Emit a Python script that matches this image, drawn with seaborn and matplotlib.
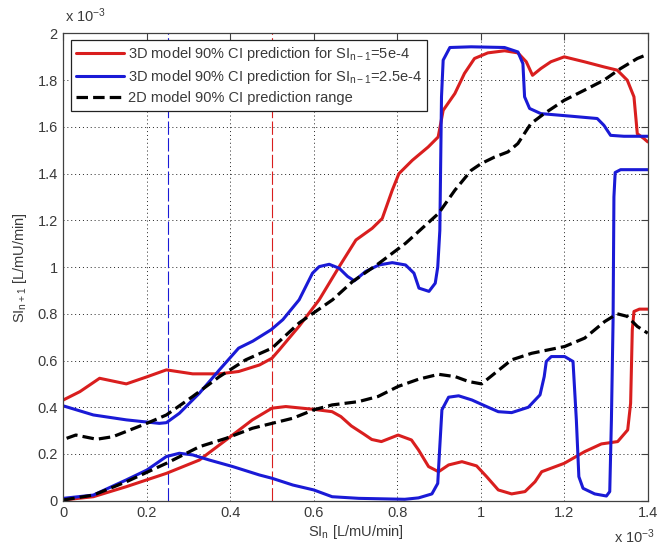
import matplotlib
matplotlib.use("Agg")
import matplotlib.pyplot as plt
import seaborn as sns
import pandas as pd
from matplotlib.lines import Line2D

# values in units of 1e-3 L/mU/min
red_up_x = [0, 0.04, 0.087, 0.151, 0.2, 0.247, 0.31, 0.374, 0.42, 0.47, 0.5, 0.518, 0.565, 0.613, 0.661,
            0.701, 0.74, 0.764, 0.788, 0.804, 0.836, 0.874, 0.898, 0.91, 0.938, 0.961, 0.985, 1.017, 1.057,
            1.089, 1.109, 1.124, 1.144, 1.168, 1.2, 1.248, 1.295, 1.327, 1.351, 1.367, 1.375, 1.391, 1.4]
red_up_y = [0.431, 0.467, 0.524, 0.50, 0.53, 0.56, 0.543, 0.543, 0.553, 0.581, 0.61, 0.647, 0.747, 0.86, 1.002,
            1.116, 1.166, 1.208, 1.329, 1.4, 1.457, 1.514, 1.557, 1.671, 1.743, 1.829, 1.893, 1.917, 1.926,
            1.917, 1.879, 1.821, 1.85, 1.879, 1.9, 1.879, 1.857, 1.843, 1.8, 1.729, 1.571, 1.55, 1.536]

blue_up_x = [0, 0.072, 0.151, 0.23, 0.247, 0.278, 0.326, 0.374, 0.42, 0.454, 0.498, 0.526, 0.565, 0.597,
             0.613, 0.637, 0.661, 0.681, 0.697, 0.724, 0.756, 0.788, 0.82, 0.84, 0.852, 0.876, 0.891,
             0.897, 0.902, 0.906, 0.91, 0.926, 0.977, 1.057, 1.089, 1.101, 1.105, 1.117, 1.144, 1.216,
             1.279, 1.295, 1.311, 1.343, 1.4]
blue_up_y = [0.406, 0.367, 0.346, 0.331, 0.334, 0.374, 0.46, 0.56, 0.653, 0.683, 0.732, 0.775, 0.86, 0.974,
             1.002, 1.012, 0.995, 0.96, 0.941, 0.981, 1.009, 1.019, 1.009, 0.974, 0.91, 0.896, 0.931,
             1.0, 1.157, 1.729, 1.886, 1.94, 1.943, 1.94, 1.921, 1.871, 1.729, 1.679, 1.657, 1.646,
             1.636, 1.607, 1.564, 1.56, 1.56]

black_up_x = [0.008, 0.03, 0.08, 0.119, 0.2, 0.247, 0.31, 0.374, 0.437, 0.5, 0.565, 0.645, 0.693, 0.756,
              0.82, 0.899, 0.938, 0.977, 1.001, 1.033, 1.065, 1.089, 1.12, 1.152, 1.2, 1.248,
              1.295, 1.335, 1.375, 1.4]
black_up_y = [0.267, 0.281, 0.263, 0.274, 0.331, 0.367, 0.446, 0.531, 0.603, 0.653, 0.761, 0.86, 0.938, 1.016,
              1.102, 1.23, 1.329, 1.414, 1.443, 1.471, 1.493, 1.529, 1.614, 1.657, 1.714, 1.757,
              1.8, 1.85, 1.893, 1.911]

red_lo_x = [0, 0.072, 0.151, 0.247, 0.326, 0.39, 0.453, 0.5, 0.533, 0.6, 0.644, 0.665, 0.69, 0.72, 0.739,
            0.762, 0.802, 0.834, 0.851, 0.875, 0.899, 0.923, 0.955, 0.99, 1.014, 1.042, 1.074, 1.106,
            1.13, 1.146, 1.2, 1.249, 1.289, 1.328, 1.352, 1.359, 1.363, 1.367, 1.38, 1.4]
red_lo_y = [0.003, 0.017, 0.06, 0.117, 0.174, 0.26, 0.346, 0.396, 0.403, 0.391, 0.381, 0.36, 0.32, 0.285, 0.262,
            0.253, 0.281, 0.26, 0.217, 0.146, 0.124, 0.153, 0.167, 0.149, 0.103, 0.046, 0.029, 0.039,
            0.081, 0.124, 0.16, 0.21, 0.243, 0.253, 0.303, 0.417, 0.731, 0.81, 0.82, 0.82]

blue_lo_x = [0, 0.072, 0.151, 0.2, 0.247, 0.278, 0.31, 0.35, 0.406, 0.47, 0.5, 0.55, 0.6, 0.644, 0.708,
             0.818, 0.851, 0.883, 0.897, 0.901, 0.907, 0.923, 0.947, 0.979, 1.01, 1.042, 1.074, 1.114,
             1.142, 1.152, 1.157, 1.169, 1.201, 1.221, 1.229, 1.235, 1.245, 1.273, 1.301, 1.309, 1.313,
             1.317, 1.319, 1.322, 1.335, 1.4]
blue_lo_y = [0.01, 0.024, 0.089, 0.131, 0.189, 0.203, 0.196, 0.174, 0.146, 0.11, 0.096, 0.067, 0.046, 0.017, 0.01,
             0.006, 0.012, 0.029, 0.074, 0.203, 0.389, 0.443, 0.449, 0.431, 0.406, 0.381, 0.377, 0.4,
             0.453, 0.531, 0.596, 0.617, 0.617, 0.596, 0.346, 0.103, 0.053, 0.029, 0.02, 0.039, 0.346,
             0.774, 1.3, 1.405, 1.417, 1.417]

black_lo_x = [0, 0.072, 0.151, 0.247, 0.326, 0.39, 0.453, 0.5, 0.55, 0.6, 0.644, 0.707, 0.754, 0.802, 0.851,
              0.899, 0.939, 0.971, 1.002, 1.034, 1.074, 1.122, 1.201, 1.249, 1.297, 1.327, 1.351, 1.375, 1.4]
black_lo_y = [0.003, 0.024, 0.081, 0.16, 0.231, 0.267, 0.31, 0.331, 0.353, 0.389, 0.41, 0.424, 0.446, 0.489, 0.52,
              0.541, 0.531, 0.51, 0.5, 0.546, 0.603, 0.631, 0.66, 0.696, 0.767, 0.8, 0.789, 0.746, 0.717]

ref_lines_x = [0.25, 0.5]
xticks = [0, 0.2, 0.4, 0.6, 0.8, 1.0, 1.2, 1.4]
xtick_labels = ["0", "0.2", "0.4", "0.6", "0.8", "1", "1.2", "1.4"]
yticks = [0, 0.2, 0.4, 0.6, 0.8, 1.0, 1.2, 1.4, 1.6, 1.8, 2.0]
ytick_labels = ["0", "0.2", "0.4", "0.6", "0.8", "1", "1.2", "1.4", "1.6", "1.8", "2"]
legend_labels = [
    "3D model 90% CI prediction for SI$_{\\mathregular{n-1}}$=5e-4",
    "3D model 90% CI prediction for SI$_{\\mathregular{n-1}}$=2.5e-4",
    "2D model 90% CI prediction range",
]

sns.set_style("white")
plt.rcParams['font.family'] = ['Liberation Sans', 'DejaVu Sans']
plt.rcParams['mathtext.fontset'] = 'custom'
plt.rcParams['mathtext.rm'] = 'Liberation Sans'
plt.rcParams['mathtext.it'] = 'Liberation Sans'

RED = "#d91e1e"
BLUE = "#1a1ad6"
TXT = "#3a3a3a"

fig = plt.figure(figsize=(6.57, 5.49), dpi=100)
ax = fig.add_axes([0.0963, 0.088, 0.8896, 0.851])

def draw(x, y, color, dashed=False):
    df = pd.DataFrame({"x": x, "y": y})
    kw = dict(dashes=(3.6, 1.6)) if dashed else {}
    l = sns.lineplot(data=df, x="x", y="y", ax=ax, color=color, lw=2.3 if dashed else 2.2,
                     estimator=None, sort=False, **kw)
    return l

ax.axvline(ref_lines_x[0], color=BLUE, lw=0.8, linestyle=(0, (12, 3)), zorder=1)
ax.axvline(ref_lines_x[1], color=RED, lw=0.8, linestyle=(0, (12, 3)), zorder=1)

draw(red_up_x, red_up_y, RED)
draw(red_lo_x, red_lo_y, RED)
draw(blue_up_x, blue_up_y, BLUE)
draw(blue_lo_x, blue_lo_y, BLUE)
draw(black_up_x, black_up_y, "black", dashed=True)
draw(black_lo_x, black_lo_y, "black", dashed=True)
for ln in ax.get_lines():
    ln.set_solid_joinstyle("round")
    ln.set_solid_capstyle("round")

ax.set_xlim(0, 1.4)
ax.set_ylim(0, 2.0)
ax.set_xticks(xticks)
ax.set_xticklabels(xtick_labels)
ax.set_yticks(yticks)
ax.set_yticklabels(ytick_labels)
ax.tick_params(direction="in", length=5, width=0.8, colors="#404040", labelcolor=TXT,
               labelsize=10.5, top=True, right=True, pad=4)
ax.grid(True, linestyle=(0, (1, 3)), color="#222222", lw=0.7)
for s in ax.spines.values():
    s.set_visible(True)
    s.set_color("#404040")
    s.set_linewidth(0.9)

ax.set_xlabel("SI$_{\\mathregular{n}}$ [L/mU/min]", fontsize=10.5, color=TXT, labelpad=2)
ax.set_ylabel("SI$_{\\mathregular{n+1}}$ [L/mU/min]", fontsize=10.5, color=TXT, labelpad=6)

fig.text(0.099, 0.955, "x 10$^{\\mathregular{-3}}$", fontsize=10.5, color=TXT, ha="left", va="bottom")
fig.text(0.935, 0.005, "x 10$^{\\mathregular{-3}}$", fontsize=10.5, color=TXT, ha="left", va="bottom")

handles = [Line2D([], [], color=RED, lw=2.2),
           Line2D([], [], color=BLUE, lw=2.2),
           Line2D([], [], color="black", lw=2.3, dashes=(3.6, 1.6))]
leg = ax.legend(handles, legend_labels, loc="upper left", bbox_to_anchor=(0.0127, 0.9857),
                borderaxespad=0, fancybox=False, framealpha=1, edgecolor="#222222",
                fontsize=10.5, handlelength=3.3, handletextpad=0.3, labelspacing=0.35,
                borderpad=0.35)
leg.get_frame().set_linewidth(0.9)
for t in leg.get_texts():
    t.set_color(TXT)

fig.savefig("out.png", dpi=100)
